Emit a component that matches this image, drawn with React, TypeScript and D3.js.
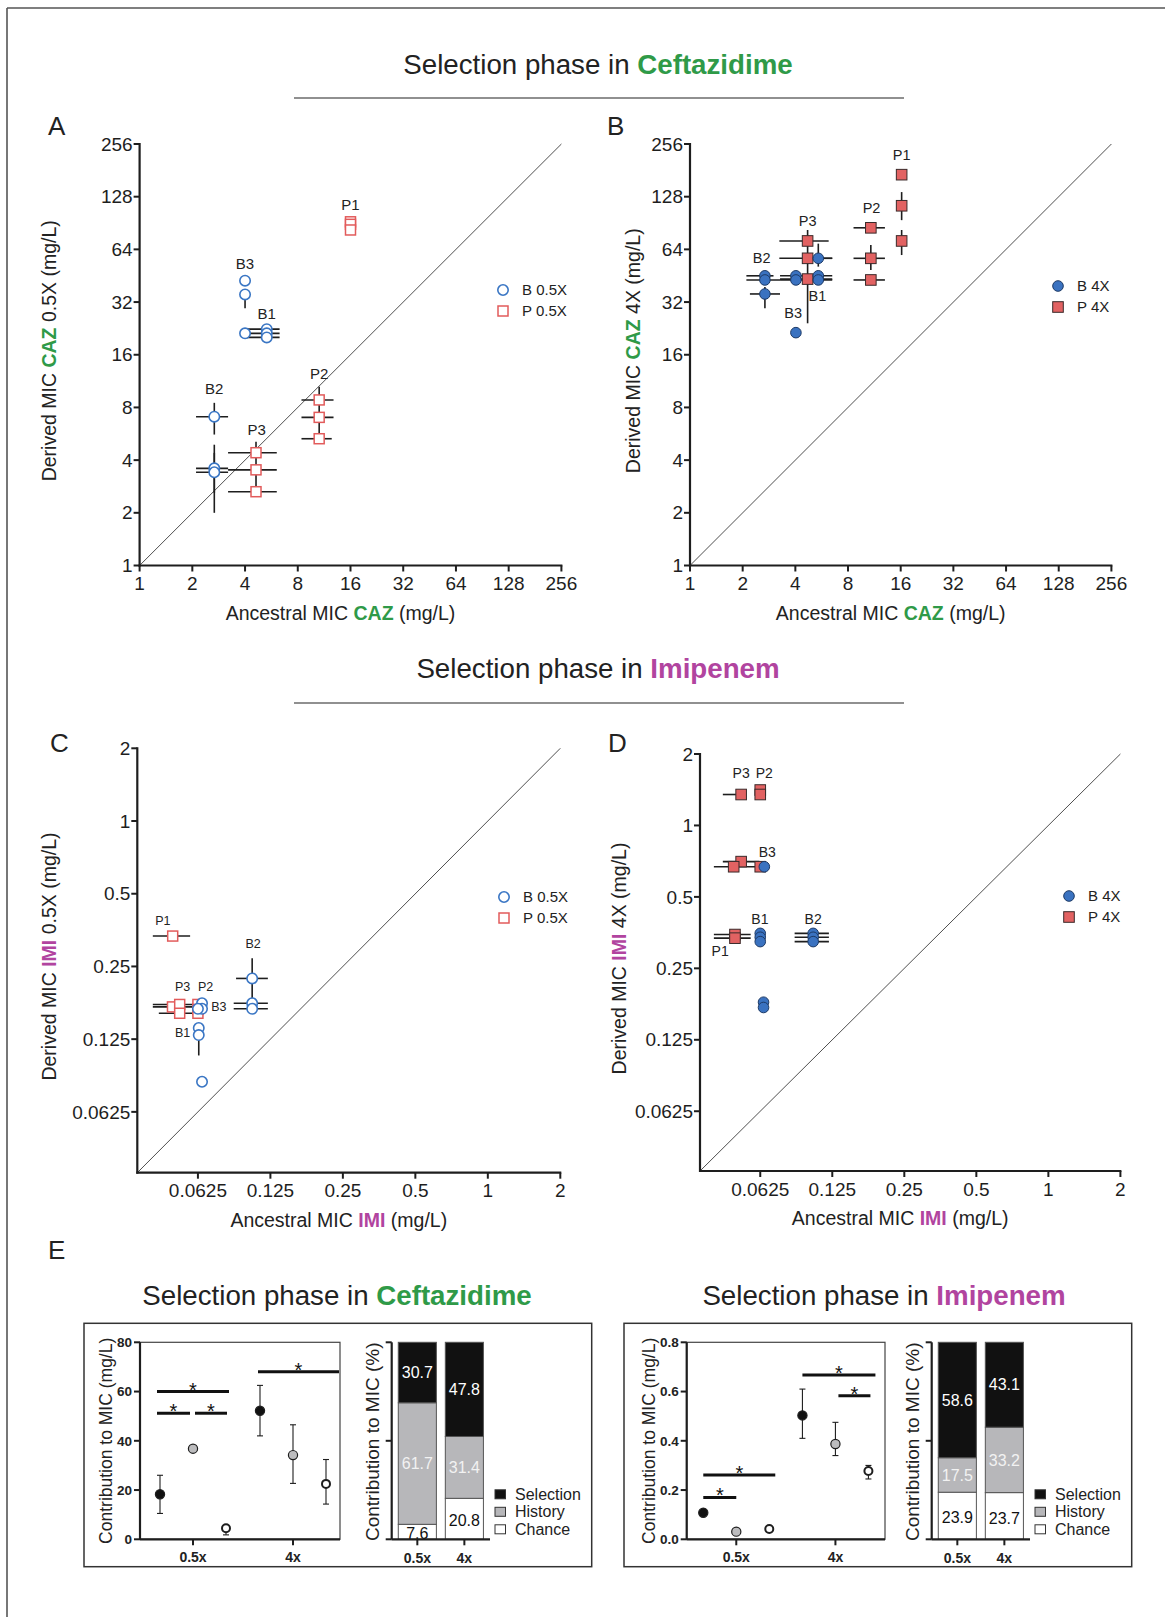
import React from 'react';
import * as d3 from 'd3';

const FONT = '"Liberation Sans", Arial, Helvetica, sans-serif';
const GREEN = '#2f9a48';
const MAGENTA = '#b1449f';
const BLUE = '#3a76c4';
const RED = '#e25b5b';
const INK = '#1e1e1e';

type Pt = { x: number; y: number; xe?: number[]; ye?: number[] };
type Lab = { t: string; x: number; y: number };

// ---- A: ceftazidime, derived at 0.5X ----
const cazHalfB: Pt[] = [
  { x: 4, y: 42.4 }, { x: 4, y: 35.4, ye: [29.5, 35.4] }, { x: 4, y: 21.2 },
  { x: 5.32, y: 22.4, xe: [4, 6.3] }, { x: 5.32, y: 21.2, xe: [4, 6.3] }, { x: 5.32, y: 20.1, xe: [4, 6.3] },
  { x: 2.67, y: 7.08, xe: [2.1, 3.2], ye: [5.6, 8.5] },
  { x: 2.67, y: 3.59, xe: [2.1, 3.2], ye: [2.0, 4.9] },
  { x: 2.67, y: 3.41, xe: [2.1, 3.2], ye: [2.6, 4.4] },
];
const cazHalfP: Pt[] = [
  { x: 4.62, y: 4.41, xe: [3.2, 6.07], ye: [4.41, 5.1] },
  { x: 4.62, y: 3.52, xe: [3.2, 6.07], ye: [2.64, 4.41] },
  { x: 4.62, y: 2.64, xe: [3.2, 6.07] },
  { x: 10.6, y: 8.83, xe: [8.4, 12.8], ye: [8.83, 10.5] },
  { x: 10.6, y: 7.02, xe: [8.4, 12.8], ye: [5.3, 8.83] },
  { x: 10.6, y: 5.3, xe: [8.4, 12.5] },
  { x: 16, y: 92 }, { x: 16, y: 89 }, { x: 16, y: 82.6 },
];
const cazHalfLabels: Lab[] = [
  { t: 'B3', x: 4, y: 53 }, { t: 'B1', x: 5.32, y: 27.6 }, { t: 'B2', x: 2.67, y: 10.2 },
  { t: 'P3', x: 4.66, y: 5.95 }, { t: 'P2', x: 10.6, y: 12.4 }, { t: 'P1', x: 16, y: 115 },
];

// ---- B: ceftazidime, derived at 4X ----
const caz4B: Pt[] = [
  { x: 2.68, y: 45.2, xe: [2.1, 3.0] }, { x: 2.68, y: 42.8, xe: [2.1, 3.27] },
  { x: 2.68, y: 35.6, xe: [2.2, 3.27], ye: [29.5, 39] },
  { x: 4.03, y: 45.2, xe: [3.27, 6.5] }, { x: 4.03, y: 42.8, xe: [3.27, 6.5] }, { x: 4.03, y: 21.4 },
  { x: 5.41, y: 56.9, xe: [4.7, 6.5], ye: [51, 69] }, { x: 5.41, y: 45.2 }, { x: 5.41, y: 42.8 },
];
const caz4P: Pt[] = [
  { x: 4.7, y: 71.5, xe: [3.24, 6.2], ye: [24.2, 82.6] },
  { x: 4.7, y: 56.9, xe: [3.24, 6.5] },
  { x: 4.7, y: 43.3, xe: [3.27, 6.5] },
  { x: 10.8, y: 85, xe: [8.6, 13] },
  { x: 10.8, y: 56.9, xe: [8.6, 13], ye: [48.8, 67.7] },
  { x: 10.8, y: 42.8, xe: [8.6, 13] },
  { x: 16.2, y: 171 }, { x: 16.2, y: 113.6, ye: [94, 136] }, { x: 16.2, y: 71.5, ye: [59.4, 82.6] },
];
const caz4Labels: Lab[] = [
  { t: 'P1', x: 16.2, y: 221 }, { t: 'P2', x: 10.9, y: 110 }, { t: 'P3', x: 4.7, y: 93.3 },
  { t: 'B2', x: 2.57, y: 56.9 }, { t: 'B1', x: 5.35, y: 34.8 }, { t: 'B3', x: 3.89, y: 27.6 },
];

// ---- C: imipenem, derived at 0.5X ----
const imiHalfB: Pt[] = [
  { x: 0.105, y: 0.223, xe: [0.09, 0.122], ye: [0.167, 0.27] },
  { x: 0.105, y: 0.176, xe: [0.088, 0.122] }, { x: 0.105, y: 0.167, xe: [0.088, 0.122] },
  { x: 0.065, y: 0.176 }, { x: 0.065, y: 0.167 }, { x: 0.065, y: 0.0833 },
  { x: 0.0625, y: 0.167 }, { x: 0.063, y: 0.139 }, { x: 0.063, y: 0.13, ye: [0.107, 0.139] },
];
const imiHalfP: Pt[] = [
  { x: 0.0491, y: 0.334, xe: [0.0406, 0.058] },
  { x: 0.049, y: 0.17, xe: [0.0406, 0.062] },
  { x: 0.0525, y: 0.174, xe: [0.0406, 0.066] },
  { x: 0.0525, y: 0.16, xe: [0.043, 0.062] },
  { x: 0.0625, y: 0.174 }, { x: 0.0625, y: 0.166 }, { x: 0.0625, y: 0.16 },
];
const imiHalfLabels: Lab[] = [
  { t: 'P1', x: 0.0447, y: 0.386 }, { t: 'B2', x: 0.106, y: 0.311 }, { t: 'P3', x: 0.054, y: 0.207 },
  { t: 'P2', x: 0.0673, y: 0.207 }, { t: 'B3', x: 0.0763, y: 0.17 }, { t: 'B1', x: 0.054, y: 0.133 },
];

// ---- D: imipenem, derived at 4X ----
const imi4B: Pt[] = [
  { x: 0.0625, y: 0.351 }, { x: 0.0625, y: 0.338 }, { x: 0.0625, y: 0.324 },
  { x: 0.104, y: 0.351, xe: [0.087, 0.121] }, { x: 0.104, y: 0.338, xe: [0.087, 0.121] },
  { x: 0.104, y: 0.324, xe: [0.087, 0.121] },
  { x: 0.065, y: 0.67 }, { x: 0.0645, y: 0.18 }, { x: 0.0645, y: 0.171 },
];
const imi4P: Pt[] = [
  { x: 0.052, y: 1.35, xe: [0.0436, 0.0545] },
  { x: 0.052, y: 0.704, xe: [0.0436, 0.062] },
  { x: 0.0484, y: 0.67, xe: [0.04, 0.062] },
  { x: 0.0625, y: 1.41 }, { x: 0.0625, y: 1.35 }, { x: 0.0625, y: 0.67 },
  { x: 0.049, y: 0.347, xe: [0.04, 0.057] }, { x: 0.049, y: 0.335, xe: [0.04, 0.057] },
];
const imi4Labels: Lab[] = [
  { t: 'P3', x: 0.052, y: 1.66 }, { t: 'P2', x: 0.065, y: 1.66 }, { t: 'B3', x: 0.0669, y: 0.771 },
  { t: 'B1', x: 0.0623, y: 0.404 }, { t: 'B2', x: 0.104, y: 0.404 }, { t: 'P1', x: 0.0425, y: 0.295 },
];

const cazTicks = [1, 2, 4, 8, 16, 32, 64, 128, 256];
const imiTicks = [0.0625, 0.125, 0.25, 0.5, 1, 2];

// ---- E: contributions ----
const groups = ['0.5x', '4x'];
const sources = ['Selection', 'History', 'Chance'];
const cazMean = [[18.3, 52.2], [36.8, 34.2], [4.5, 22.5]];
const cazErr = [[[10.5, 26], [42, 62.5]], [[36.3, 37.3], [22.7, 46.5]], [[1.8, 5.3], [14.3, 32.4]]];
const imiMean = [[0.108, 0.503], [0.031, 0.387], [0.042, 0.277]];
const imiErr = [[null, [0.41, 0.61]], [null, [0.34, 0.475]], [null, [0.245, 0.3]]];
const cazPct = [[30.7, 47.8], [61.7, 31.4], [7.6, 20.8]];
const imiPct = [[58.6, 43.1], [17.5, 33.2], [23.9, 23.7]];
const cazSig = [
  { g: '0.5x', a: 'Selection', b: 'Chance', y: 60, pad: [-3, 3] },
  { g: '0.5x', a: 'Selection', b: 'History', y: 51.2, pad: [-3, -3] },
  { g: '0.5x', a: 'History', b: 'Chance', y: 51.2, pad: [2, 1] },
  { g: '4x', a: 'Selection', b: 'Chance', y: 68, pad: [-2, 13] },
];
const imiSig = [
  { g: '0.5x', a: 'Selection', b: 'History', y: 0.17, pad: [0, 0] },
  { g: '0.5x', a: 'Selection', b: 'Chance', y: 0.261, pad: [0, 6] },
  { g: '4x', a: 'Selection', b: 'Chance', y: 0.667, pad: [0, 7] },
  { g: '4x', a: 'History', b: 'Chance', y: 0.583, pad: [3, 2] },
];

const srcFill = ['#111', '#bcbcbe', '#fff'];
const pctFill = ['#111', '#b7b7ba', '#fff'];
const pctText = ['#fff', '#f2f2f2', '#111'];

function MicPanel(props: any) {
  const { x0, x1, y0, y1, domain, ticks, bPts, pPts, labels, filled, drug, drugColor, conc, labelSize, legendX, legendY, ylabX } = props;
  const x = d3.scaleLog().base(2).domain(domain).range([x0, x1]);
  const y = d3.scaleLog().base(2).domain(domain).range([y1, y0]);
  const bars = (pts: Pt[], key: string) =>
    pts.map((p, i) => (
      <g key={key + i} stroke={INK} strokeWidth={1.6}>
        {p.xe && <line x1={x(p.xe[0])} x2={x(p.xe[1])} y1={y(p.y)} y2={y(p.y)} />}
        {p.ye && <line x1={x(p.x)} x2={x(p.x)} y1={y(p.ye[0])} y2={y(p.ye[1])} />}
      </g>
    ));
  const circ = (cx: number, cy: number, k: string) =>
    filled ? <circle key={k} cx={cx} cy={cy} r={5.3} fill="#3a72c0" stroke="#1d3a66" strokeWidth={1} />
      : <circle key={k} cx={cx} cy={cy} r={5.2} fill="#fff" stroke={BLUE} strokeWidth={1.6} />;
  const sq = (cx: number, cy: number, k: string) =>
    filled ? <rect key={k} x={cx - 5.3} y={cy - 5.3} width={10.6} height={10.6} fill="#e26262" stroke="#3a2a2a" strokeWidth={1} />
      : <rect key={k} x={cx - 5} y={cy - 5} width={10} height={10} fill="#fff" stroke={RED} strokeWidth={1.5} />;
  const cx = (x0 + x1) / 2;
  const cy = (y0 + y1) / 2;
  return (
    <g fontFamily={FONT}>
      <line x1={x(domain[0])} y1={y(domain[0])} x2={x(domain[1])} y2={y(domain[1])} stroke="#222" strokeWidth={0.8} />
      <line x1={x0} x2={x0} y1={y0 - 1} y2={y1 + 1} stroke={INK} strokeWidth={2.2} />
      <line x1={x0 - 1} x2={x1 + 1} y1={y1} y2={y1} stroke={INK} strokeWidth={2.2} />
      {ticks.map((t: number) => (
        <g key={'t' + t} fontSize={19} fill={INK}>
          <line x1={x0 - 6} x2={x0} y1={y(t)} y2={y(t)} stroke={INK} strokeWidth={2} />
          <text x={x0 - 7} y={y(t)} dy="0.35em" textAnchor="end">{String(t)}</text>
          <line x1={x(t)} x2={x(t)} y1={y1} y2={y1 + 6} stroke={INK} strokeWidth={2} />
          <text x={x(t)} y={y1 + 24.5} textAnchor="middle">{String(t)}</text>
        </g>
      ))}
      {bars(bPts, 'bb')}
      {bars(pPts, 'pb')}
      {pPts.map((p: Pt, i: number) => sq(x(p.x), y(p.y), 'ps' + i))}
      {bPts.map((p: Pt, i: number) => circ(x(p.x), y(p.y), 'bc' + i))}
      {labels.map((l: Lab, i: number) => (
        <text key={'l' + i} x={x(l.x)} y={y(l.y)} dy="0.35em" textAnchor="middle" fontSize={labelSize} fill="#222">{l.t}</text>
      ))}
      <g fontSize={15} fill="#222">
        {circ(legendX, legendY, 'lc')}
        <text x={legendX + 19} y={legendY} dy="0.35em">B {conc}</text>
        {sq(legendX, legendY + 21, 'ls')}
        <text x={legendX + 19} y={legendY + 21} dy="0.35em">P {conc}</text>
      </g>
      <text x={cx - 10} y={y1 + 54} textAnchor="middle" fontSize={19.5} fill="#222">
        Ancestral MIC <tspan fontWeight="bold" fill={drugColor}>{drug}</tspan> (mg/L)
      </text>
      <text transform={`translate(${ylabX},${cy - 4}) rotate(-90)`} textAnchor="middle" dy="0.35em" fontSize={19.5} fill="#222">
        Derived MIC <tspan fontWeight="bold" fill={drugColor}>{drug}</tspan> {conc} (mg/L)
      </text>
    </g>
  );
}

function ContribPanel(props: any) {
  const { bx0, bx1, by0, by1, sx0, sx1, sy0, sy1, align, max, tickStep, fmt, mean, err, sig, pct, px0, legX, ylabOff } = props;
  const g = d3.scalePoint().domain(groups).range([sx0, sx1]).padding(0.5).align(align);
  const off = d3.scalePoint().domain(sources).range([-33, 33]);
  const y = d3.scaleLinear().domain([0, max]).range([sy1, sy0]);
  const yt = d3.range(0, max + tickStep / 2, tickStep);
  const pos = (grp: string, s: string) => (g(grp) as number) + (off(s) as number);
  const bx = d3.scaleBand().domain(groups).range([px0, px0 + 98.3]).paddingInner(0.19).paddingOuter(0.14);
  const yp = d3.scaleLinear().domain([0, 100]).range([sy1, sy0]);
  const stacked = d3.stack<any>().keys(['0', '1', '2'].reverse())(
    groups.map((_, gi) => ({ '0': pct[0][gi], '1': pct[1][gi], '2': pct[2][gi] }))
  );
  return (
    <g fontFamily={FONT}>
      <rect x={bx0} y={by0} width={bx1 - bx0} height={by1 - by0} fill="none" stroke="#333" strokeWidth={1.5} />
      {/* scatter frame */}
      <rect x={sx0} y={sy0} width={sx1 - sx0} height={sy1 - sy0} fill="none" stroke="#444" strokeWidth={1.2} />
      <line x1={sx0} x2={sx0} y1={sy0} y2={sy1} stroke={INK} strokeWidth={2.2} />
      <line x1={sx0} x2={sx1} y1={sy1} y2={sy1} stroke={INK} strokeWidth={2.2} />
      {yt.map((t) => (
        <g key={'yt' + t}>
          <line x1={sx0 - 6} x2={sx0} y1={y(t)} y2={y(t)} stroke={INK} strokeWidth={2} />
          <text x={sx0 - 8} y={y(t)} dy="0.35em" textAnchor="end" fontSize={13.5} fontWeight="bold" fill="#222">{fmt(t)}</text>
        </g>
      ))}
      {groups.map((grp) => (
        <g key={'gx' + grp}>
          <line x1={g(grp)} x2={g(grp)} y1={sy1} y2={sy1 + 6} stroke={INK} strokeWidth={2} />
          <text x={g(grp)} y={sy1 + 22.5} textAnchor="middle" fontSize={14} fontWeight="bold" fill="#222">{grp}</text>
        </g>
      ))}
      {sources.map((s, si) =>
        groups.map((grp, gi) => {
          const e = err[si][gi];
          const px = pos(grp, s);
          return (
            <g key={s + grp}>
              {e && (
                <g stroke={INK} strokeWidth={1.1}>
                  <line x1={px} x2={px} y1={y(e[0])} y2={y(e[1])} />
                  <line x1={px - 3} x2={px + 3} y1={y(e[0])} y2={y(e[0])} />
                  <line x1={px - 3} x2={px + 3} y1={y(e[1])} y2={y(e[1])} />
                </g>
              )}
              <circle cx={px} cy={y(mean[si][gi])} r={si === 2 ? 4 : 4.6} fill={srcFill[si]} stroke={INK} strokeWidth={si === 2 ? 2 : 1.2} />
            </g>
          );
        })
      )}
      {sig.map((b: any, i: number) => {
        const xa = pos(b.g, b.a) + b.pad[0];
        const xb = pos(b.g, b.b) + b.pad[1];
        return (
          <g key={'sig' + i}>
            <line x1={xa} x2={xb} y1={y(b.y)} y2={y(b.y)} stroke="#111" strokeWidth={3} />
            <text x={(xa + xb) / 2} y={y(b.y) + 5} textAnchor="middle" fontSize={20} fill="#111">*</text>
          </g>
        );
      })}
      <text transform={`translate(${sx0 - ylabOff},${(sy0 + sy1) / 2}) rotate(-90)`} textAnchor="middle" dy="0.35em" fontSize={17.5} fill="#222">
        Contribution to MIC (mg/L)
      </text>
      {/* stacked percentages */}
      {stacked.map((layer) => {
        const si = +layer.key;
        return layer.map((d, gi) => {
          const grp = groups[gi];
          const top = yp(d[1]);
          const bot = yp(d[0]);
          return (
            <g key={'st' + si + grp}>
              <rect x={bx(grp)} y={top} width={bx.bandwidth()} height={bot - top} fill={pctFill[si]} stroke="#555" strokeWidth={1} />
              <text x={(bx(grp) as number) + bx.bandwidth() / 2} y={(top + bot) / 2 + (si === 2 ? 2 : 0)} dy="0.35em" textAnchor="middle" fontSize={16} fill={pctText[si]}>
                {pct[si][gi].toFixed(1)}
              </text>
            </g>
          );
        });
      })}
      <line x1={px0} x2={px0} y1={sy0} y2={sy1} stroke={INK} strokeWidth={2.2} />
      <line x1={px0} x2={px0 + 98.3} y1={sy1} y2={sy1} stroke={INK} strokeWidth={2.2} />
      {[0, 50, 100].map((t) => (
        <line key={'pt' + t} x1={px0 - 6} x2={px0} y1={yp(t)} y2={yp(t)} stroke={INK} strokeWidth={2} />
      ))}
      {groups.map((grp) => {
        const c = (bx(grp) as number) + bx.bandwidth() / 2;
        return (
          <g key={'px' + grp}>
            <line x1={c} x2={c} y1={sy1} y2={sy1 + 6} stroke={INK} strokeWidth={2} />
            <text x={c} y={sy1 + 23.5} textAnchor="middle" fontSize={14} fontWeight="bold" fill="#222">{grp}</text>
          </g>
        );
      })}
      <text transform={`translate(${px0 - 19},${(sy0 + sy1) / 2 + 1}) rotate(-90)`} textAnchor="middle" dy="0.35em" fontSize={19} fill="#222">
        Contribution to MIC (%)
      </text>
      {sources.map((s, si) => (
        <g key={'lg' + s}>
          <rect x={legX} y={1494.3 + si * 17.5 - 4.5} width={10.5} height={9} fill={pctFill[si]} stroke="#333" strokeWidth={1} />
          <text x={legX + 20} y={1494.3 + si * 17.5} dy="0.35em" fontSize={16} fill="#222">{s}</text>
        </g>
      ))}
    </g>
  );
}

function Title({ x, y, drug, color }: any) {
  return (
    <text x={x} y={y} textAnchor="middle" fontSize={27.7} fontFamily={FONT} fill="#222">
      Selection phase in <tspan fontWeight="bold" fill={color}>{drug}</tspan>
    </text>
  );
}

export default function App() {
  return (
    <svg width={1165} height={1617} style={{ position: 'absolute', left: 0, top: 0, display: 'block', background: '#fff' }}>
      <rect x={0} y={0} width={1165} height={1617} fill="#fff" />
      <line x1={7} x2={1165} y1={8} y2={8} stroke="#555" strokeWidth={1.6} />
      <line x1={7} x2={7} y1={8} y2={1617} stroke="#555" strokeWidth={1.6} />

      <Title x={598} y={74} drug="Ceftazidime" color={GREEN} />
      <line x1={294} x2={904} y1={98} y2={98} stroke="#222" strokeWidth={1.2} />
      <Title x={598} y={678} drug="Imipenem" color={MAGENTA} />
      <line x1={294} x2={904} y1={703} y2={703} stroke="#222" strokeWidth={1.2} />

      <g fontFamily={FONT} fontSize={26} fill="#222">
        <text x={48} y={135}>A</text>
        <text x={607} y={135}>B</text>
        <text x={50} y={752}>C</text>
        <text x={608} y={752}>D</text>
        <text x={48} y={1259}>E</text>
      </g>

      <MicPanel x0={139.6} x1={561.4} y0={144} y1={565.5} domain={[1, 256]} ticks={cazTicks}
        bPts={cazHalfB} pPts={cazHalfP} labels={cazHalfLabels} filled={false} drug="CAZ" drugColor={GREEN}
        conc="0.5X" labelSize={15} legendX={503} legendY={290} ylabX={49} />
      <MicPanel x0={690} x1={1111.4} y0={144} y1={565.5} domain={[1, 256]} ticks={cazTicks}
        bPts={caz4B} pPts={caz4P} labels={caz4Labels} filled={true} drug="CAZ" drugColor={GREEN}
        conc="4X" labelSize={14.5} legendX={1058} legendY={286} ylabX={633} />
      <MicPanel x0={137.3} x1={560.3} y0={748.3} y1={1172.7} domain={[0.035, 2]} ticks={imiTicks}
        bPts={imiHalfB} pPts={imiHalfP} labels={imiHalfLabels} filled={false} drug="IMI" drugColor={MAGENTA}
        conc="0.5X" labelSize={12.5} legendX={504} legendY={897} ylabX={49} />
      <MicPanel x0={700} x1={1120.4} y0={754} y1={1171} domain={[0.035, 2]} ticks={imiTicks}
        bPts={imi4B} pPts={imi4P} labels={imi4Labels} filled={true} drug="IMI" drugColor={MAGENTA}
        conc="4X" labelSize={14} legendX={1069} legendY={896} ylabX={619} />

      <Title x={337} y={1305} drug="Ceftazidime" color={GREEN} />
      <Title x={884} y={1305} drug="Imipenem" color={MAGENTA} />

      <ContribPanel bx0={84} bx1={591.7} by0={1323.3} by1={1566.7} sx0={140} sx1={340} sy0={1342.3} sy1={1539.3}
        align={0.53} max={80} tickStep={20} fmt={(v: number) => String(v)} mean={cazMean} err={cazErr}
        sig={cazSig} pct={cazPct} px0={391.7} legX={495} ylabOff={34} />
      <ContribPanel bx0={624} bx1={1131.7} by0={1323.3} by1={1566.7} sx0={686.7} sx1={885} sy0={1342.3} sy1={1539.3}
        align={0.5} max={0.8} tickStep={0.2} fmt={(v: number) => v.toFixed(1)} mean={imiMean} err={imiErr}
        sig={imiSig} pct={imiPct} px0={931.7} legX={1035} ylabOff={38} />
    </svg>
  );
}
